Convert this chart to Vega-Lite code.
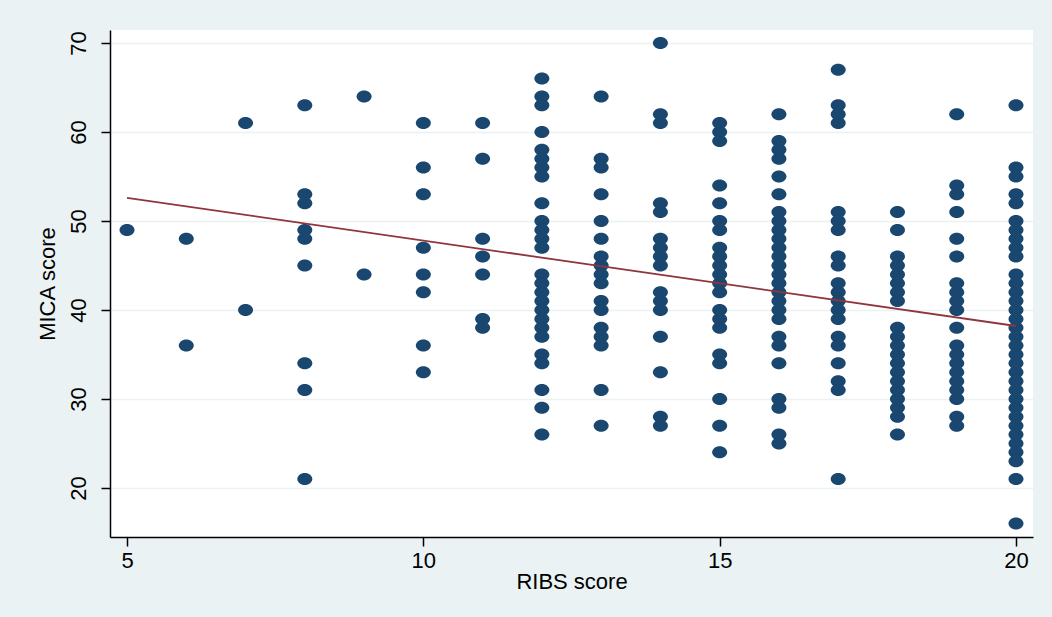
{
  "$schema": "https://vega.github.io/schema/vega-lite/v6.json",
  "width": 923,
  "height": 507,
  "autosize": {"type": "none"},
  "padding": {"left": 110, "top": 30, "right": 19, "bottom": 80},
  "background": "#EAF2F3",
  "config": {"view": {"fill": "white", "stroke": null}, "font": "Liberation Sans"},
  "datasets": {
    "pts": [
      {"ribs": 5, "mica": 49},
      {"ribs": 6, "mica": 48}, {"ribs": 6, "mica": 36},
      {"ribs": 7, "mica": 61}, {"ribs": 7, "mica": 40},
      {"ribs": 8, "mica": 63}, {"ribs": 8, "mica": 53}, {"ribs": 8, "mica": 52}, {"ribs": 8, "mica": 49}, {"ribs": 8, "mica": 48}, {"ribs": 8, "mica": 45}, {"ribs": 8, "mica": 34}, {"ribs": 8, "mica": 31}, {"ribs": 8, "mica": 21},
      {"ribs": 9, "mica": 64}, {"ribs": 9, "mica": 44},
      {"ribs": 10, "mica": 61}, {"ribs": 10, "mica": 56}, {"ribs": 10, "mica": 53}, {"ribs": 10, "mica": 47}, {"ribs": 10, "mica": 44}, {"ribs": 10, "mica": 42}, {"ribs": 10, "mica": 36}, {"ribs": 10, "mica": 33},
      {"ribs": 11, "mica": 61}, {"ribs": 11, "mica": 57}, {"ribs": 11, "mica": 48}, {"ribs": 11, "mica": 46}, {"ribs": 11, "mica": 44}, {"ribs": 11, "mica": 39}, {"ribs": 11, "mica": 38},
      {"ribs": 12, "mica": 66}, {"ribs": 12, "mica": 64}, {"ribs": 12, "mica": 63}, {"ribs": 12, "mica": 60}, {"ribs": 12, "mica": 58}, {"ribs": 12, "mica": 57}, {"ribs": 12, "mica": 56}, {"ribs": 12, "mica": 55}, {"ribs": 12, "mica": 52}, {"ribs": 12, "mica": 50}, {"ribs": 12, "mica": 49}, {"ribs": 12, "mica": 48}, {"ribs": 12, "mica": 47}, {"ribs": 12, "mica": 44}, {"ribs": 12, "mica": 43}, {"ribs": 12, "mica": 42}, {"ribs": 12, "mica": 41}, {"ribs": 12, "mica": 40}, {"ribs": 12, "mica": 39}, {"ribs": 12, "mica": 38}, {"ribs": 12, "mica": 37}, {"ribs": 12, "mica": 35}, {"ribs": 12, "mica": 34}, {"ribs": 12, "mica": 31}, {"ribs": 12, "mica": 29}, {"ribs": 12, "mica": 26},
      {"ribs": 13, "mica": 64}, {"ribs": 13, "mica": 57}, {"ribs": 13, "mica": 56}, {"ribs": 13, "mica": 53}, {"ribs": 13, "mica": 50}, {"ribs": 13, "mica": 48}, {"ribs": 13, "mica": 46}, {"ribs": 13, "mica": 45}, {"ribs": 13, "mica": 44}, {"ribs": 13, "mica": 43}, {"ribs": 13, "mica": 41}, {"ribs": 13, "mica": 40}, {"ribs": 13, "mica": 38}, {"ribs": 13, "mica": 37}, {"ribs": 13, "mica": 36}, {"ribs": 13, "mica": 31}, {"ribs": 13, "mica": 27},
      {"ribs": 14, "mica": 70}, {"ribs": 14, "mica": 62}, {"ribs": 14, "mica": 61}, {"ribs": 14, "mica": 52}, {"ribs": 14, "mica": 51}, {"ribs": 14, "mica": 48}, {"ribs": 14, "mica": 47}, {"ribs": 14, "mica": 46}, {"ribs": 14, "mica": 45}, {"ribs": 14, "mica": 42}, {"ribs": 14, "mica": 41}, {"ribs": 14, "mica": 40}, {"ribs": 14, "mica": 37}, {"ribs": 14, "mica": 33}, {"ribs": 14, "mica": 28}, {"ribs": 14, "mica": 27},
      {"ribs": 15, "mica": 61}, {"ribs": 15, "mica": 60}, {"ribs": 15, "mica": 59}, {"ribs": 15, "mica": 54}, {"ribs": 15, "mica": 52}, {"ribs": 15, "mica": 50}, {"ribs": 15, "mica": 49}, {"ribs": 15, "mica": 47}, {"ribs": 15, "mica": 46}, {"ribs": 15, "mica": 45}, {"ribs": 15, "mica": 44}, {"ribs": 15, "mica": 43}, {"ribs": 15, "mica": 42}, {"ribs": 15, "mica": 40}, {"ribs": 15, "mica": 39}, {"ribs": 15, "mica": 38}, {"ribs": 15, "mica": 35}, {"ribs": 15, "mica": 34}, {"ribs": 15, "mica": 30}, {"ribs": 15, "mica": 27}, {"ribs": 15, "mica": 24},
      {"ribs": 16, "mica": 62}, {"ribs": 16, "mica": 59}, {"ribs": 16, "mica": 58}, {"ribs": 16, "mica": 57}, {"ribs": 16, "mica": 55}, {"ribs": 16, "mica": 53}, {"ribs": 16, "mica": 51}, {"ribs": 16, "mica": 50}, {"ribs": 16, "mica": 49}, {"ribs": 16, "mica": 48}, {"ribs": 16, "mica": 47}, {"ribs": 16, "mica": 46}, {"ribs": 16, "mica": 45}, {"ribs": 16, "mica": 44}, {"ribs": 16, "mica": 43}, {"ribs": 16, "mica": 42}, {"ribs": 16, "mica": 41}, {"ribs": 16, "mica": 40}, {"ribs": 16, "mica": 39}, {"ribs": 16, "mica": 37}, {"ribs": 16, "mica": 36}, {"ribs": 16, "mica": 34}, {"ribs": 16, "mica": 30}, {"ribs": 16, "mica": 29}, {"ribs": 16, "mica": 26}, {"ribs": 16, "mica": 25},
      {"ribs": 17, "mica": 67}, {"ribs": 17, "mica": 63}, {"ribs": 17, "mica": 62}, {"ribs": 17, "mica": 61}, {"ribs": 17, "mica": 51}, {"ribs": 17, "mica": 50}, {"ribs": 17, "mica": 49}, {"ribs": 17, "mica": 46}, {"ribs": 17, "mica": 45}, {"ribs": 17, "mica": 43}, {"ribs": 17, "mica": 42}, {"ribs": 17, "mica": 41}, {"ribs": 17, "mica": 40}, {"ribs": 17, "mica": 39}, {"ribs": 17, "mica": 37}, {"ribs": 17, "mica": 36}, {"ribs": 17, "mica": 34}, {"ribs": 17, "mica": 32}, {"ribs": 17, "mica": 31}, {"ribs": 17, "mica": 21},
      {"ribs": 18, "mica": 51}, {"ribs": 18, "mica": 49}, {"ribs": 18, "mica": 46}, {"ribs": 18, "mica": 45}, {"ribs": 18, "mica": 44}, {"ribs": 18, "mica": 43}, {"ribs": 18, "mica": 42}, {"ribs": 18, "mica": 41}, {"ribs": 18, "mica": 38}, {"ribs": 18, "mica": 37}, {"ribs": 18, "mica": 36}, {"ribs": 18, "mica": 35}, {"ribs": 18, "mica": 34}, {"ribs": 18, "mica": 33}, {"ribs": 18, "mica": 32}, {"ribs": 18, "mica": 31}, {"ribs": 18, "mica": 30}, {"ribs": 18, "mica": 29}, {"ribs": 18, "mica": 28}, {"ribs": 18, "mica": 26},
      {"ribs": 19, "mica": 62}, {"ribs": 19, "mica": 54}, {"ribs": 19, "mica": 53}, {"ribs": 19, "mica": 51}, {"ribs": 19, "mica": 48}, {"ribs": 19, "mica": 46}, {"ribs": 19, "mica": 43}, {"ribs": 19, "mica": 42}, {"ribs": 19, "mica": 41}, {"ribs": 19, "mica": 40}, {"ribs": 19, "mica": 38}, {"ribs": 19, "mica": 36}, {"ribs": 19, "mica": 35}, {"ribs": 19, "mica": 34}, {"ribs": 19, "mica": 33}, {"ribs": 19, "mica": 32}, {"ribs": 19, "mica": 31}, {"ribs": 19, "mica": 30}, {"ribs": 19, "mica": 28}, {"ribs": 19, "mica": 27},
      {"ribs": 20, "mica": 63}, {"ribs": 20, "mica": 56}, {"ribs": 20, "mica": 55}, {"ribs": 20, "mica": 53}, {"ribs": 20, "mica": 52}, {"ribs": 20, "mica": 50}, {"ribs": 20, "mica": 49}, {"ribs": 20, "mica": 48}, {"ribs": 20, "mica": 47}, {"ribs": 20, "mica": 46}, {"ribs": 20, "mica": 44}, {"ribs": 20, "mica": 43}, {"ribs": 20, "mica": 42}, {"ribs": 20, "mica": 41}, {"ribs": 20, "mica": 40}, {"ribs": 20, "mica": 39}, {"ribs": 20, "mica": 38}, {"ribs": 20, "mica": 37}, {"ribs": 20, "mica": 36}, {"ribs": 20, "mica": 35}, {"ribs": 20, "mica": 34}, {"ribs": 20, "mica": 33}, {"ribs": 20, "mica": 32}, {"ribs": 20, "mica": 31}, {"ribs": 20, "mica": 30}, {"ribs": 20, "mica": 29}, {"ribs": 20, "mica": 28}, {"ribs": 20, "mica": 27}, {"ribs": 20, "mica": 26}, {"ribs": 20, "mica": 25}, {"ribs": 20, "mica": 24}, {"ribs": 20, "mica": 23}, {"ribs": 20, "mica": 21}, {"ribs": 20, "mica": 16}
    ],
    "fit": [
      {"ribs": 5, "mica": 52.6},
      {"ribs": 20, "mica": 38.2}
    ]
  },
  "layer": [
    {
      "data": {"name": "pts"},
      "mark": {"type": "point", "filled": true, "shape": "M -1 0 A 1 0.8 0 1 0 1 0 A 1 0.8 0 1 0 -1 0 Z", "size": 225, "color": "#1A476F", "opacity": 1},
      "encoding": {
        "x": {
          "field": "ribs", "type": "quantitative",
          "scale": {"domain": [4.713, 20.287], "nice": false, "zero": false},
          "axis": {"title": "RIBS score", "values": [5, 10, 15, 20], "format": "d", "grid": false, "domainColor": "black", "domainWidth": 1.5, "tickColor": "black", "tickWidth": 1.5, "tickSize": 9, "labelFontSize": 22, "labelColor": "black", "labelPadding": 4, "labelFlush": false, "titleFontSize": 22, "titleFontWeight": "normal", "titleColor": "black", "titlePadding": 0}
        },
        "y": {
          "field": "mica", "type": "quantitative",
          "scale": {"domain": [14.49, 71.46], "nice": false, "zero": false},
          "axis": {"title": "MICA score", "values": [20, 30, 40, 50, 60, 70], "format": "d", "grid": true, "gridColor": "#EAF2F3", "gridWidth": 1.5, "domainColor": "black", "domainWidth": 1.5, "tickColor": "black", "tickWidth": 1.5, "tickSize": 9, "labelAngle": -90, "labelFontSize": 22, "labelColor": "black", "labelPadding": 11, "titleFontSize": 22, "titleFontWeight": "normal", "titleColor": "black", "titlePadding": 8}
        }
      }
    },
    {
      "data": {"name": "fit"},
      "mark": {"type": "line", "color": "#90353B", "strokeWidth": 1.8},
      "encoding": {
        "x": {"field": "ribs", "type": "quantitative"},
        "y": {"field": "mica", "type": "quantitative"}
      }
    }
  ]
}
